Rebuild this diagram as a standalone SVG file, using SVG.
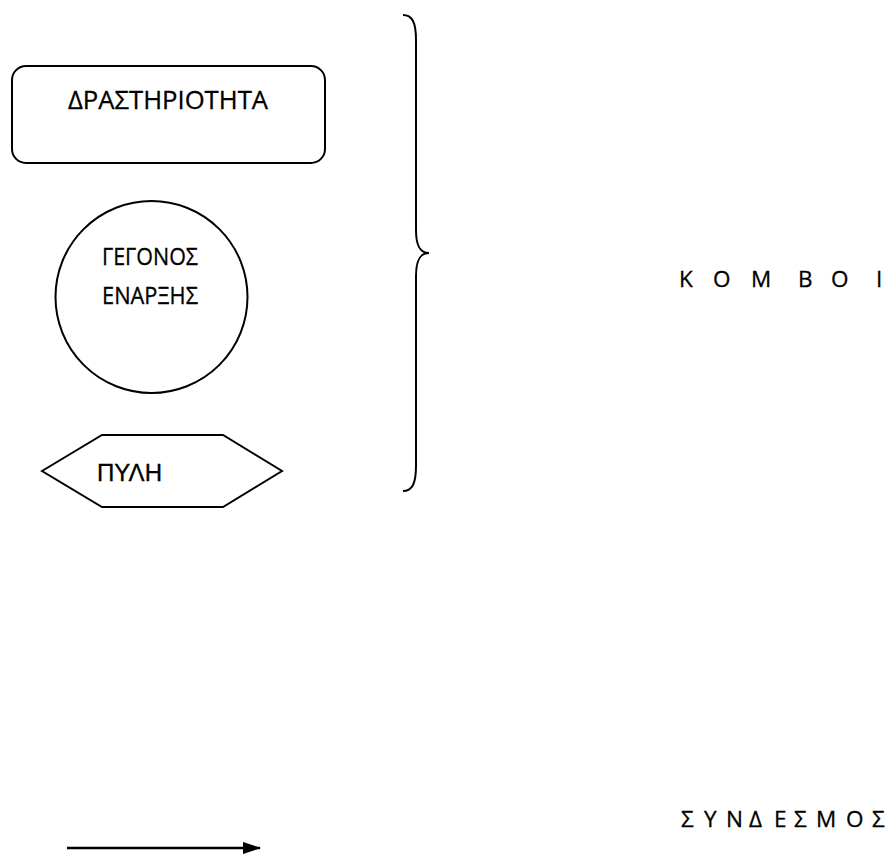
<svg xmlns="http://www.w3.org/2000/svg" width="895" height="854" viewBox="0 0 895 854">
<style>
.s{fill:#fff;stroke:#000;stroke-width:2}
.t{font-family:"Open Sans","Noto Sans","DejaVu Sans",sans-serif;fill:#000;stroke:#000;stroke-width:0.3}
.a{font-family:"Liberation Sans",Arial,sans-serif;fill:#000;stroke:#000;stroke-width:0.3}
</style>
<defs>
<marker id="ah" markerWidth="18" markerHeight="12" refX="17" refY="6" orient="auto" markerUnits="userSpaceOnUse"><path d="M0,0 L18,6 L0,12 z" fill="#000"/></marker>
</defs>
<rect width="895" height="854" fill="#fff"/>
<g id="activity">
<rect class="s" x="12" y="66" width="313" height="97" rx="14"/>
<text class="t" x="68" y="109" font-size="25" textLength="200" lengthAdjust="spacingAndGlyphs">ΔΡΑΣΤΗΡΙΟΤΗΤΑ</text>
</g>
<g id="start-event">
<circle class="s" cx="151.5" cy="297" r="96"/>
<text class="t" x="102" y="265" font-size="24.5" textLength="96" lengthAdjust="spacingAndGlyphs">ΓΕΓΟΝΟΣ</text>
<text class="t" x="102" y="304" font-size="24.5" textLength="96" lengthAdjust="spacingAndGlyphs">ΕΝΑΡΞΗΣ</text>
</g>
<g id="gate">
<polygon class="s" points="42,471 102,435 223,435 282,471 223,507 102,507"/>
<text class="a" x="97" y="481" font-size="23.5" textLength="65" lengthAdjust="spacingAndGlyphs">ΠΥΛΗ</text>
</g>
<g id="brace">
<path d="M403,15 C412,15 416,22 416,40 V230 C416,246 420,253 429,253 C420,253 416,260 416,276 V466 C416,484 412,491 403,491" fill="none" stroke="#000" stroke-width="2"/>
</g>
<g id="labels">
<text class="t" font-size="22.5" y="287" x="679 713 751 798 831 876">ΚΟΜΒΟΙ</text>
<text class="t" font-size="22.5" y="827" x="681 704 726 749 774 794 816 846 872">ΣΥΝΔΕΣΜΟΣ</text>
</g>
<g id="connectors">
<line x1="67" y1="848" x2="260" y2="848" stroke="#000" stroke-width="2.5" marker-end="url(#ah)"/>
</g>
</svg>
